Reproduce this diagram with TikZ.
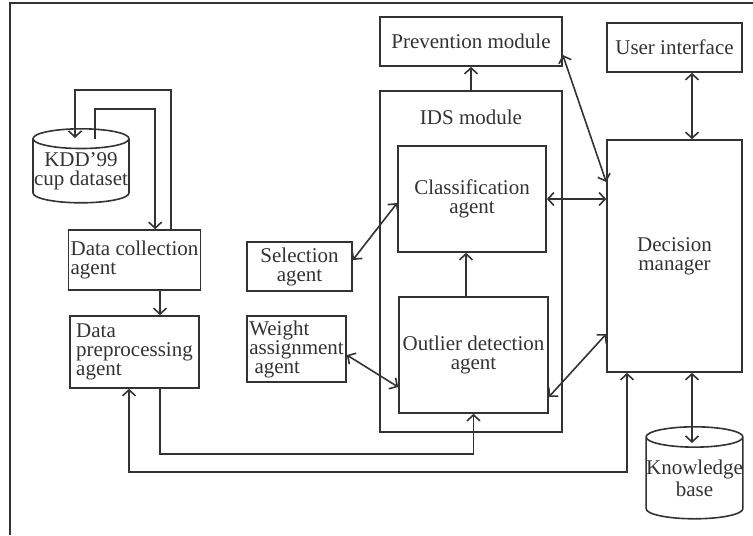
\documentclass[tikz,border=0pt]{standalone}
\usepackage{fontspec}
\setmainfont{Liberation Serif}
\usetikzlibrary{arrows.meta,shapes.geometric,calc}

\begin{document}
\begin{tikzpicture}[
  x=0.5pt, y=-0.5pt,
  line width=0.8pt, color=black!80,
  every node/.style={align=center, font=\fontsize{10.5}{9.5}\selectfont},
  box/.style={draw, rectangle, inner sep=1pt},
  storage/.style={draw, cylinder, shape border rotate=90, aspect=0.21, inner sep=0pt, anchor=north},
  flow/.style={-{Straight Barb[length=3pt,width=6.5pt]}},
  both/.style={{Straight Barb[length=3pt,width=6.5pt]}-{Straight Barb[length=3pt,width=6.5pt]}}]

\useasboundingbox (0,0) rectangle (753,535);

% Frame round the figure
\draw (10,535) -- (10,3) -- (753,3);

% Position the nodes
\node[storage, minimum width=48pt, minimum height=37pt] (kddDataset) at (81,128) {KDD'99\\cup dataset};
\node[box, minimum width=64.5pt, minimum height=30pt, align=left] (dataCollection) at (134.5,260) {Data collection\\agent};
\node[box, minimum width=64.5pt, minimum height=36pt, align=left] (dataPreprocessing) at (134.5,352) {Data\\preprocessing\\agent};
\node[box, minimum width=52.5pt, minimum height=24.5pt] (selectionAgent) at (299.5,266.5) {Selection\\agent};
\node[box, minimum width=49.5pt, minimum height=33pt, align=left] (weightAssignment) at (296.5,349) {Weight\\assignment\\\ agent};
\node[box, minimum width=91pt, minimum height=24.5pt] (preventionModule) at (471,41.5) {Prevention module};
\node[box, minimum width=67.5pt, minimum height=24.5pt] (userInterface) at (674.5,47.5) {User interface};
\node[box, minimum width=91pt, minimum height=170.5pt,
  label={[anchor=north, yshift=-6pt]north:IDS module}] (idsModule) at (471,261.5) {};
\node[box, minimum width=74pt, minimum height=53pt] (classificationAgent) at (472,199) {Classification\\agent};
\node[box, minimum width=74.5pt, minimum height=58pt] (outlierDetection) at (473.5,355) {Outlier detection\\agent};
\node[box, minimum width=67.5pt, minimum height=116pt] (decisionManager) at (674.5,256) {Decision\\manager};
\node[storage, minimum width=47.5pt, minimum height=46pt] (knowledgeBase) at (694.5,426) {Knowledge\\base};

% Draw the arrows between the nodes
\draw [flow] ($(dataCollection.north east)+(-30,0)$) -- ++(0,-139) -| ($(kddDataset.north)+(-6,10)$);
\draw [flow] ($(kddDataset.north)+(14,11)$) -- ++(0,-30) -| ($(dataCollection.north east)+(-46,0)$);
\draw [flow] ($(dataCollection.south)+(25.5,0)$) coordinate (dc1) -- (dc1 |- dataPreprocessing.north);
\draw [flow] ($(dataPreprocessing.south)+(25.5,0)$) -- ++(0,65) -| (outlierDetection.south);
\draw [both] ($(dataPreprocessing.south)+(-5.5,0)$) -- ++(0,83) -| ($(decisionManager.south)+(-47.5,0)$);
\draw [flow] (idsModule.north) -- (preventionModule.south);
\draw [flow] ($(outlierDetection.north)+(-7.5,0)$) coordinate (od1) -- (od1 |- classificationAgent.south);
\draw [both] ($(preventionModule.east)+(0,13.5)$) -- ($(decisionManager.west)+(0,-74)$);
\draw [both] ($(userInterface.south)+(17.5,0)$) coordinate (ui1) -- (ui1 |- decisionManager.north);
\draw [both] (classificationAgent.east) -- (classificationAgent.east -| decisionManager.west);
\draw [both] ($(outlierDetection.east)+(0,42)$) -- ($(decisionManager.west)+(0,78)$);
\draw [both] ($(selectionAgent.east)+(0,-6.5)$) -- ($(classificationAgent.west)+(0,4)$);
\draw [both] ($(weightAssignment.east)+(0,6)$) -- ($(outlierDetection.west)+(0,32)$);
\draw [both] ($(decisionManager.south)+(17.5,0)$) -- ($(knowledgeBase.north)+(-2.5,17)$);

\end{tikzpicture}
\end{document}
